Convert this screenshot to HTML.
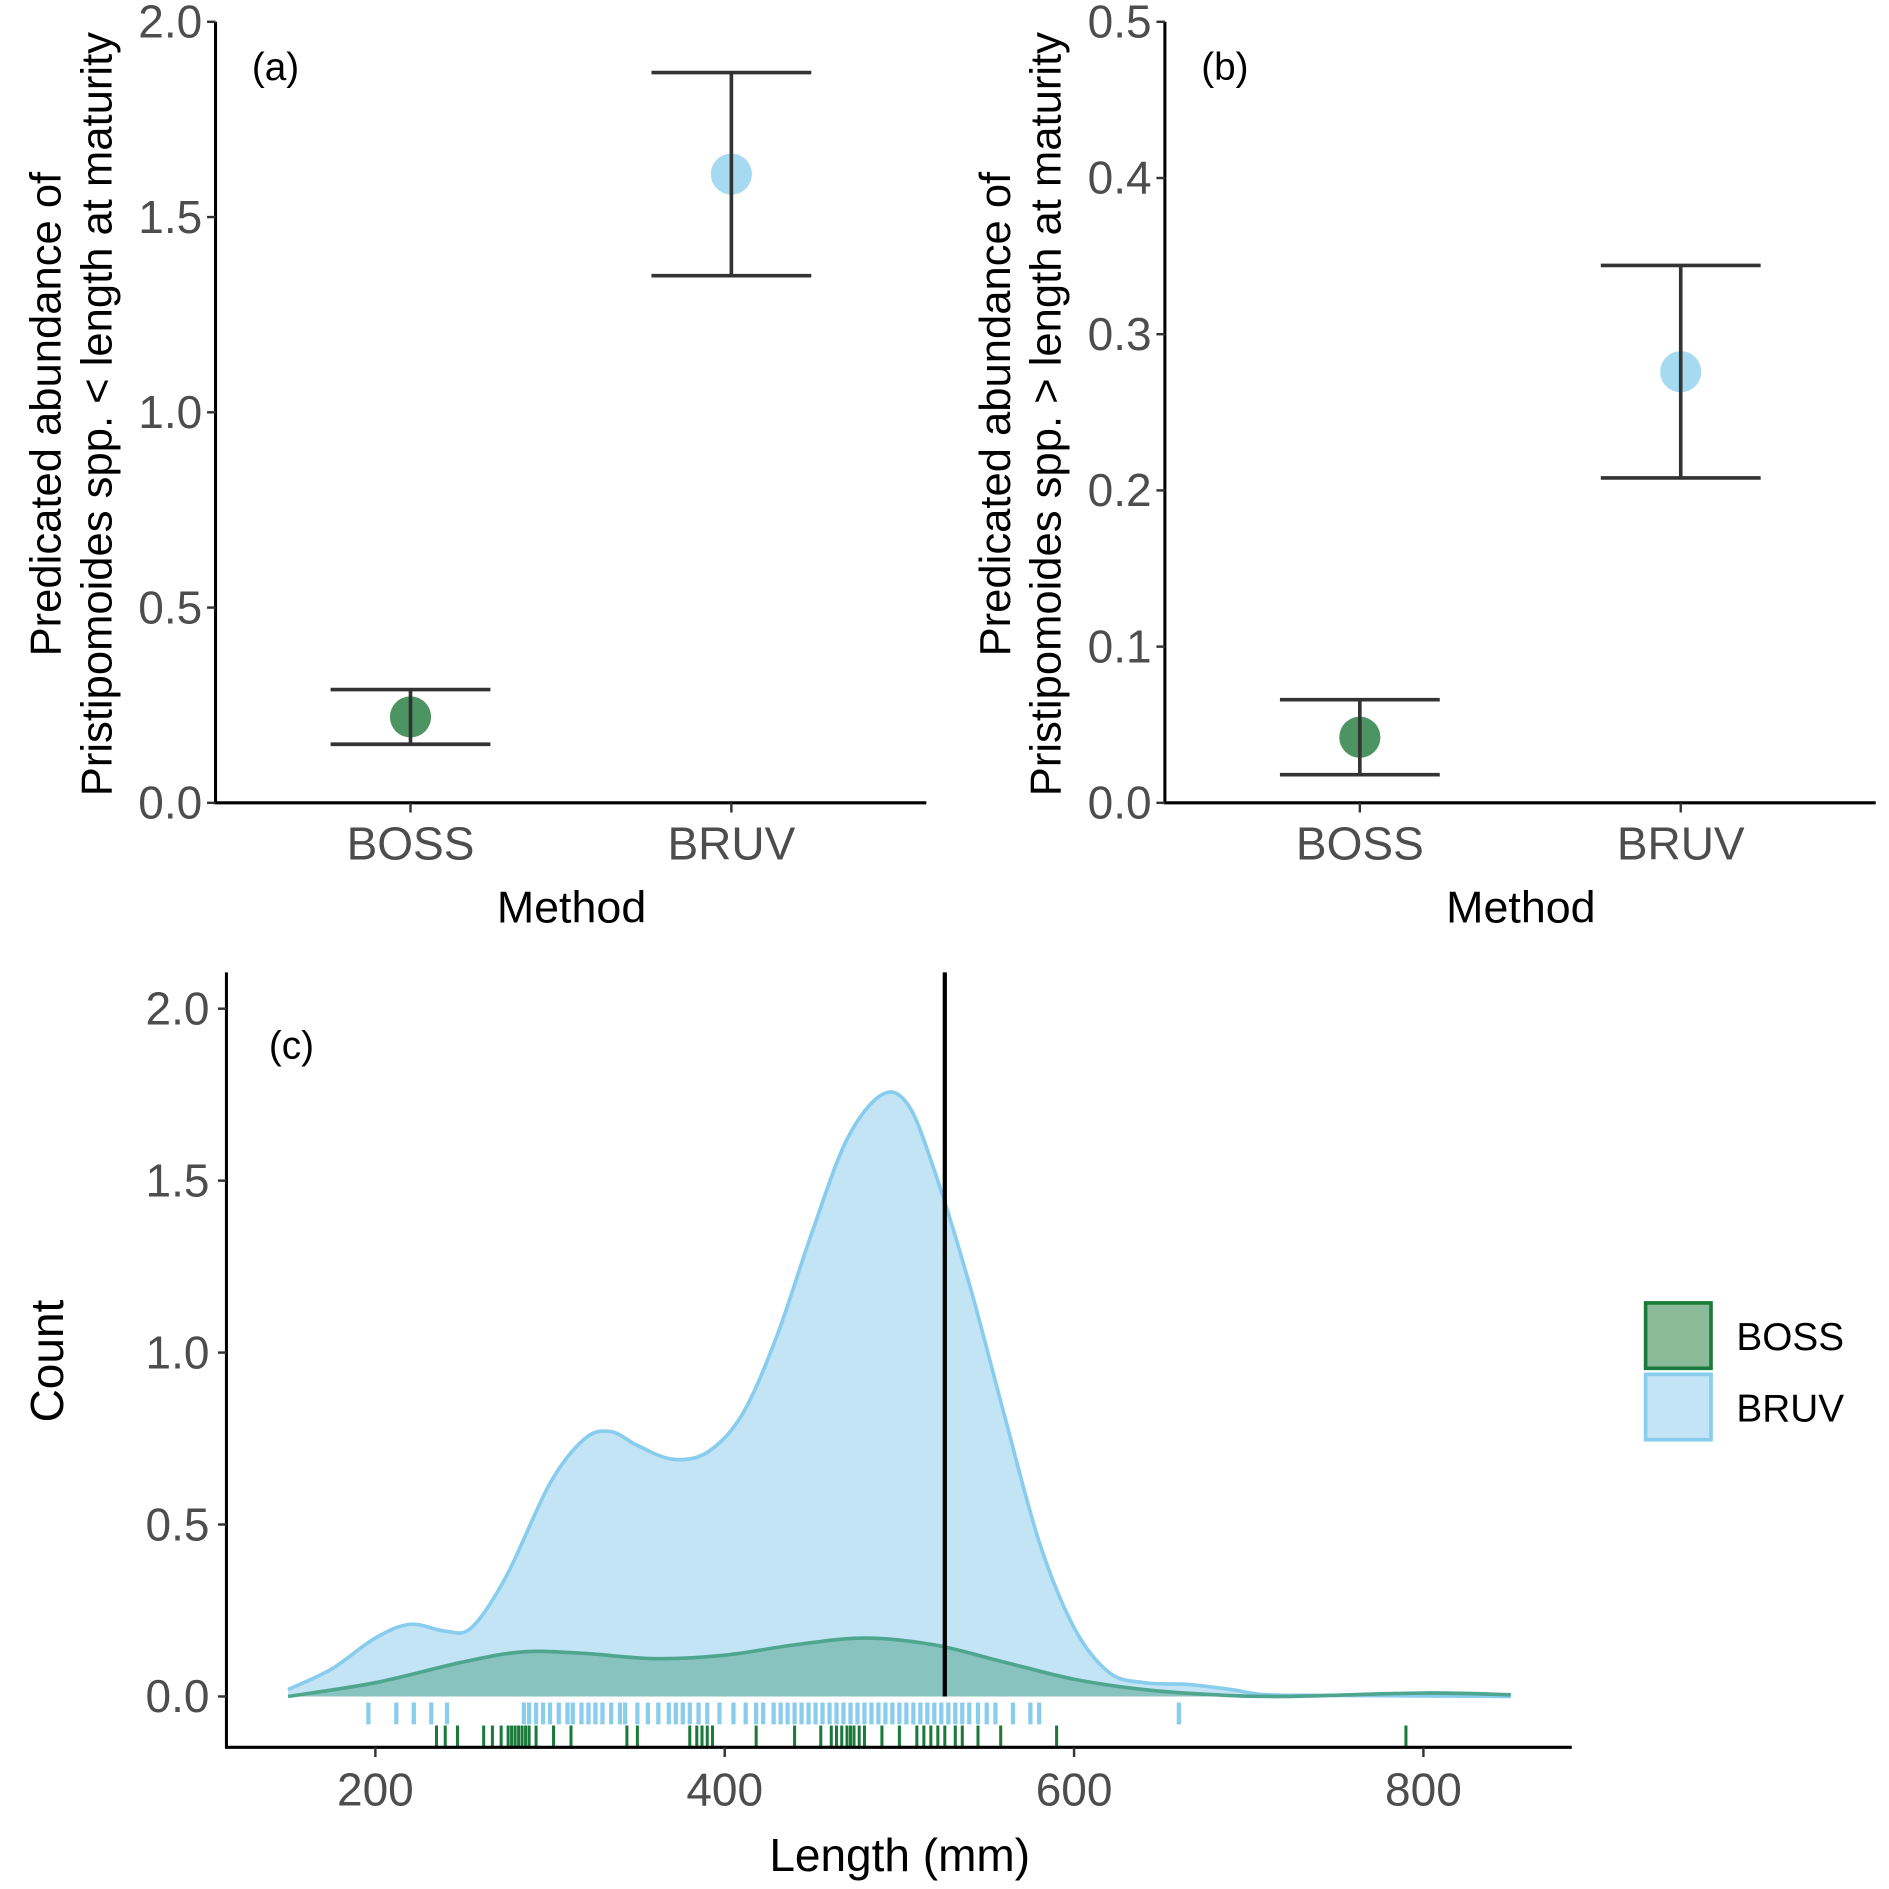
<!DOCTYPE html>
<html><head><meta charset="utf-8"><style>html,body{margin:0;padding:0;background:#fff}svg{display:block}text{font-family:"Liberation Sans",Arial,sans-serif}</style></head>
<body>
<svg id="fig" width="1889" height="1889" viewBox="0 0 1560 1560" xmlns="http://www.w3.org/2000/svg">
<g id="pa"></g>
<g id="pb"></g>
<g id="pc"></g>
</svg>
<script>
const methods=["BOSS","BRUV"];
const aMean=[0.22,1.61], aLow=[0.15,1.35], aHigh=[0.29,1.87];
const bMean=[0.042,0.276], bLow=[0.018,0.208], bHigh=[0.066,0.344];
const aTicks=["0.0","0.5","1.0","1.5","2.0"];
const bTicks=["0.0","0.1","0.2","0.3","0.4","0.5"];
const bruvX=[150,175,200,220,240,255,275,300,320,335,350,370,390,410,430,450,470,490,505,520,540,560,580,600,620,640,665,690,710,750,850];
const bruvY=[0.02,0.08,0.17,0.21,0.19,0.2,0.35,0.62,0.75,0.77,0.73,0.69,0.71,0.82,1.05,1.35,1.62,1.75,1.72,1.53,1.2,0.82,0.45,0.2,0.07,0.04,0.035,0.02,0.005,0.003,0.0];
const bossX=[150,200,250,285,320,360,400,440,480,520,560,600,640,680,720,800,850];
const bossY=[0.0,0.04,0.1,0.13,0.125,0.11,0.12,0.15,0.17,0.15,0.1,0.05,0.02,0.005,0.0,0.01,0.005];
const bruvRug=[196,212,222,232,241,285,288,292,296,300,305,310,313,318,322,326,330,335,340,343,350,356,362,368,372,376,380,385,390,397,405,412,418,422,428,432,436,440,444,448,452,456,460,464,468,472,476,480,484,488,492,496,500,504,508,512,516,520,524,528,532,536,540,545,550,555,565,575,580,660];
const bossRug=[235,240,247,262,267,272,276,278,280,282,284,286,288,292,302,312,344,350,380,384,387,390,393,418,440,455,461,464,467,470,472,474,477,480,490,500,510,514,518,522,526,532,536,545,558,590,790];
const xTicksC=[200,400,600,800];
const yTicksC=[0,0.5,1.0,1.5,2.0];
const critLen=526;

const NS="http://www.w3.org/2000/svg";
function el(p,t,a,txt){const e=document.createElementNS(NS,t);for(const k in a)e.setAttribute(k,a[k]);if(txt!==undefined)e.textContent=txt;p.appendChild(e);return e;}

function errPanel(g,x0,x1,ymax,ticks,mean,low,high,label,title2){
  const y0=663,yt=18;
  const sy=v=>y0-(v/ymax)*(y0-yt);
  const cx=[x0+161,x0+426];
  let e;
  e=el(g,'line',{x1:x0,y1:yt,x2:x0,y2:y0+1,stroke:'#000','stroke-width':2.5});
  
  e=el(g,'line',{x1:x0-1,y1:y0,x2:x1,y2:y0,stroke:'#000','stroke-width':2.5});
  
  ticks.forEach(t=>{const y=sy(parseFloat(t));
    el(g,'line',{x1:x0-7,y1:y,x2:x0,y2:y,stroke:'#333','stroke-width':2});
    e=el(g,'text',{x:x0-11,y:y+13,'text-anchor':'end','font-size':38,fill:'#4d4d4d'},t);
    });
  methods.forEach((m,i)=>{
    el(g,'line',{x1:cx[i],y1:y0,x2:cx[i],y2:y0+8,stroke:'#333','stroke-width':2});
    e=el(g,'text',{x:cx[i],y:710,'text-anchor':'middle','font-size':38,fill:'#4d4d4d'},m);
    
    const col=i==0?'#1f7a3c':'#87ceeb';
    e=el(g,'circle',{cx:cx[i],cy:sy(mean[i]),r:17,fill:col,'fill-opacity':i==0?0.8:0.75});
    
    const eg=el(g,'g',{stroke:'#333','stroke-width':3});
    
    el(eg,'line',{x1:cx[i],y1:sy(low[i]),x2:cx[i],y2:sy(high[i])});
    el(eg,'line',{x1:cx[i]-66,y1:sy(low[i]),x2:cx[i]+66,y2:sy(low[i])});
    el(eg,'line',{x1:cx[i]-66,y1:sy(high[i]),x2:cx[i]+66,y2:sy(high[i])});
  });
  e=el(g,'text',{x:x0+30,y:66,'font-size':32,fill:'#000'},label);
  
  e=el(g,'text',{x:x0+294,y:762,'text-anchor':'middle','font-size':37,fill:'#000'},'Method');
  
  const tg=el(g,'text',{transform:`translate(${x0-128},342) rotate(-90)`,'text-anchor':'middle','font-size':36,fill:'#000'});
  
  el(tg,'tspan',{x:0,y:0},'Predicated abundance of');
  el(tg,'tspan',{x:0,y:42},title2);
}
errPanel(document.getElementById('pa'),178,765,2.0,aTicks,aMean,aLow,aHigh,'(a)','Pristipomoides spp. < length at maturity');
errPanel(document.getElementById('pb'),962,1549,0.5,bTicks,bMean,bLow,bHigh,'(b)','Pristipomoides spp. > length at maturity');

(function(){
  const g=document.getElementById('pc');
  const sx=v=>310+(v-200)*(288.5/200);
  const sy=v=>1401-v*284;
  function smooth(xs,ys){let pts=xs.map((x,i)=>[sx(x),sy(ys[i])]);let d=`M${pts[0][0]},${pts[0][1]}`;
    for(let i=0;i<pts.length-1;i++){const p0=pts[Math.max(0,i-1)],p1=pts[i],p2=pts[i+1],p3=pts[Math.min(pts.length-1,i+2)];
      const c1=[p1[0]+(p2[0]-p0[0])/6,p1[1]+(p2[1]-p0[1])/6],c2=[p2[0]-(p3[0]-p1[0])/6,p2[1]-(p3[1]-p1[1])/6];
      d+=` C${c1[0]},${c1[1]} ${c2[0]},${c2[1]} ${p2[0]},${p2[1]}`;}return d;}
  let e;
  const bd=smooth(bruvX,bruvY);
  e=el(g,'path',{d:bd+` L${sx(850)},${sy(0)} L${sx(150)},${sy(0)} Z`,fill:'#c3e4f5',stroke:'none'});
  
  const sd=smooth(bossX,bossY);
  e=el(g,'path',{d:sd+` L${sx(850)},${sy(0)} L${sx(150)},${sy(0)} Z`,fill:'#89c3c0',stroke:'none'});
  
  e=el(g,'path',{d:bd,fill:'none',stroke:'#88ccee','stroke-width':3});
  
  e=el(g,'path',{d:sd,fill:'none',stroke:'#4ea68f','stroke-width':3});
  
  e=el(g,'line',{x1:sx(critLen),y1:803,x2:sx(critLen),y2:1401,stroke:'#000','stroke-width':3.5});
  
  bruvRug.forEach(v=>{e=el(g,'line',{x1:sx(v),y1:1406,x2:sx(v),y2:1424,stroke:'#88ccee','stroke-width':3.5});
    });
  bossRug.forEach(v=>{e=el(g,'line',{x1:sx(v),y1:1425,x2:sx(v),y2:1443,stroke:'#1a7a3a','stroke-width':2.5});
    });
  e=el(g,'line',{x1:187,y1:803,x2:187,y2:1444,stroke:'#000','stroke-width':2.5});
  
  e=el(g,'line',{x1:186,y1:1443,x2:1298,y2:1443,stroke:'#000','stroke-width':2.5});
  
  yTicksC.forEach(t=>{const y=sy(t);el(g,'line',{x1:180,y1:y,x2:187,y2:y,stroke:'#333','stroke-width':2});
    e=el(g,'text',{x:173,y:y+13,'text-anchor':'end','font-size':38,fill:'#4d4d4d'},t.toFixed(1));
    });
  xTicksC.forEach(t=>{const x=sx(t);el(g,'line',{x1:x,y1:1443,x2:x,y2:1451,stroke:'#333','stroke-width':2});
    e=el(g,'text',{x:x,y:1491,'text-anchor':'middle','font-size':38,fill:'#4d4d4d'},String(t));
    });
  e=el(g,'text',{x:222,y:874,'font-size':32,fill:'#000'},'(c)');
  
  e=el(g,'text',{x:743,y:1545,'text-anchor':'middle','font-size':38,fill:'#000'},'Length (mm)');
  
  e=el(g,'text',{transform:'translate(52,1124) rotate(-90)','text-anchor':'middle','font-size':38,fill:'#000'},'Count');
  
  const lg=el(g,'g',{});
  
  e=el(lg,'rect',{x:1359,y:1076,width:54,height:54,fill:'#8aba98',stroke:'#1a7a3a','stroke-width':3});
  
  e=el(lg,'rect',{x:1359,y:1135,width:54,height:54,fill:'#c3e4f5',stroke:'#88ccee','stroke-width':3});
  
  e=el(lg,'text',{x:1434,y:1115,'font-size':32,fill:'#000'},'BOSS');
  
  e=el(lg,'text',{x:1434,y:1174,'font-size':32,fill:'#000'},'BRUV');
  
})();
</script>
</body></html>
